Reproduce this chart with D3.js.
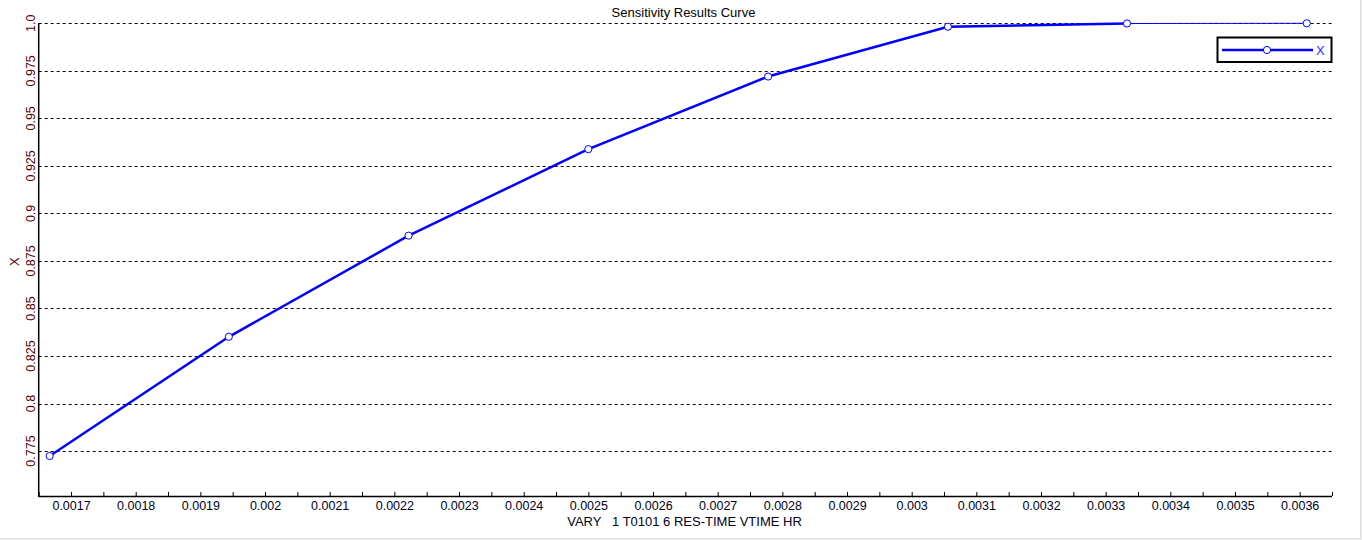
<!DOCTYPE html>
<html>
<head>
<meta charset="utf-8">
<script src="https://cdn.jsdelivr.net/npm/d3@7"></script>
<style>
  html, body { margin: 0; padding: 0; background: #f0f0f0; }
  svg { display: block; }
  text { font-family: "Liberation Sans", Arial, sans-serif; }
</style>
</head>
<body>
<script>
// ---- data ----
const xValues = [0.001667, 0.001944, 0.002222, 0.0025, 0.002778, 0.003056, 0.003333, 0.003611];
const yValues = [0.7724, 0.8351, 0.8883, 0.9338, 0.9720, 0.9982, 0.9999, 1.0];
const xTickValues = [0.0017, 0.0018, 0.0019, 0.002, 0.0021, 0.0022, 0.0023, 0.0024, 0.0025, 0.0026,
                     0.0027, 0.0028, 0.0029, 0.003, 0.0031, 0.0032, 0.0033, 0.0034, 0.0035, 0.0036];
const xTickLabels = ["0.0017", "0.0018", "0.0019", "0.002", "0.0021", "0.0022", "0.0023", "0.0024", "0.0025", "0.0026",
                     "0.0027", "0.0028", "0.0029", "0.003", "0.0031", "0.0032", "0.0033", "0.0034", "0.0035", "0.0036"];
const yTickValues = [1.0, 0.975, 0.95, 0.925, 0.9, 0.875, 0.85, 0.825, 0.8, 0.775];
const yTickLabels = ["1.0", "0.975", "0.95", "0.925", "0.9", "0.875", "0.85", "0.825", "0.8", "0.775"];
const xDomain = [0.00165, 0.00365];
const yDomain = [0.75135, 1.0];
const titleText = "Sensitivity Results Curve";
const xLabelText = "VARY   1 T0101 6 RES-TIME VTIME HR";
const yLabelText = "X";
const seriesName = "X";

// ---- layout ----
const W = 1362, H = 540;
const pLeft = 38.7, pRight = 1332, pTop = 23.3, pBottom = 496;

const svg = d3.select("body").append("svg").attr("width", W).attr("height", H);
svg.append("rect").attr("x", 0).attr("y", 0).attr("width", 1360).attr("height", 538).attr("fill", "#ffffff");
svg.append("line").attr("x1", 1360.5).attr("x2", 1360.5).attr("y1", 0).attr("y2", 538.5).attr("stroke", "#dcdcdc");
svg.append("line").attr("x1", 0).attr("x2", 1360.5).attr("y1", 538.5).attr("y2", 538.5).attr("stroke", "#dcdcdc");

const x = d3.scaleLinear().domain(xDomain).range([pLeft, pRight]);
const y = d3.scaleLinear().domain(yDomain).range([pBottom, pTop]);

// gridlines
svg.append("g").selectAll("line").data(yTickValues).join("line")
  .attr("x1", pLeft).attr("x2", pRight)
  .attr("y1", d => Math.round(y(d)) + 0.5).attr("y2", d => Math.round(y(d)) + 0.5)
  .attr("stroke", "#000").attr("stroke-width", 1).attr("stroke-dasharray", "3,3");

// x axis (ticks inside, upward)
const minorTicks = d3.range(0, 41).map(i => xDomain[0] + i * 0.00005);
const xAxisMinor = d3.axisBottom(x).tickValues(minorTicks).tickSize(-4).tickFormat("");
const gxm = svg.append("g").attr("transform", `translate(0,${pBottom})`).call(xAxisMinor);
gxm.select(".domain").attr("stroke", "#000").attr("stroke-width", 1.5).attr("d", `M${pLeft},0.5H${pRight}`);
gxm.selectAll(".tick line").attr("stroke", "#000");

const xAxis = d3.axisBottom(x).tickValues(xTickValues).tickSize(0).tickPadding(14)
  .tickFormat((d, i) => xTickLabels[i]);
const gx = svg.append("g").attr("transform", `translate(0,${pBottom})`).call(xAxis);
gx.select(".domain").remove();
gx.selectAll(".tick text").attr("font-size", 12.5).attr("fill", "#000018")
  .attr("font-family", "'Liberation Sans', Arial, sans-serif").attr("dy", 0);

// y axis line
svg.append("line").attr("x1", pLeft).attr("x2", pLeft).attr("y1", pTop).attr("y2", pBottom + 1)
  .attr("stroke", "#000").attr("stroke-width", 1.5);

// y tick labels (rotated)
svg.append("g").selectAll("text").data(yTickValues).join("text")
  .attr("transform", d => `translate(35,${y(d)}) rotate(-90)`)
  .attr("text-anchor", "middle").attr("font-size", 12.5).attr("fill", "#5a0000")
  .text((d, i) => yTickLabels[i]);

// titles
svg.append("text").attr("x", 683.5).attr("y", 17).attr("text-anchor", "middle")
  .attr("font-size", 13).attr("fill", "#000").text(titleText);
svg.append("text").attr("x", 684.5).attr("y", 525.5).attr("text-anchor", "middle")
  .attr("font-size", 13).attr("fill", "#000018").attr("xml:space", "preserve")
  .style("white-space", "pre").text(xLabelText);
svg.append("text").attr("transform", `translate(19,${(pTop + pBottom) / 2 + 2}) rotate(-90)`)
  .attr("text-anchor", "middle").attr("font-size", 13).attr("fill", "#5a0000").text(yLabelText);

// series line
const pts = xValues.map((v, i) => [v, yValues[i]]);
const line = d3.line().x(d => x(d[0])).y(d => y(d[1]));
svg.append("path").datum(pts.slice(0, 7)).attr("d", line)
  .attr("fill", "none").attr("stroke", "#0000ff").attr("stroke-width", 2.5);
svg.append("path").datum(pts.slice(6)).attr("d", line)
  .attr("fill", "none").attr("stroke", "#0000ff").attr("stroke-width", 1);
svg.append("g").selectAll("circle").data(pts).join("circle")
  .attr("cx", d => x(d[0])).attr("cy", d => y(d[1])).attr("r", 3.6)
  .attr("fill", "#fff").attr("stroke", "#0000ff").attr("stroke-width", 1);

// legend
const lg = svg.append("g");
lg.append("rect").attr("x", 1217.5).attr("y", 37.5).attr("width", 114).attr("height", 24.5)
  .attr("fill", "#fff").attr("stroke", "#000").attr("stroke-width", 2);
lg.append("line").attr("x1", 1222).attr("x2", 1313).attr("y1", 50).attr("y2", 50)
  .attr("stroke", "#0000ff").attr("stroke-width", 2.5);
lg.append("circle").attr("cx", 1267).attr("cy", 50).attr("r", 3.6)
  .attr("fill", "#fff").attr("stroke", "#0000ff").attr("stroke-width", 1);
lg.append("text").attr("x", 1316).attr("y", 55).attr("font-size", 13).attr("fill", "#3030ff").text(seriesName);
</script>
</body>
</html>
